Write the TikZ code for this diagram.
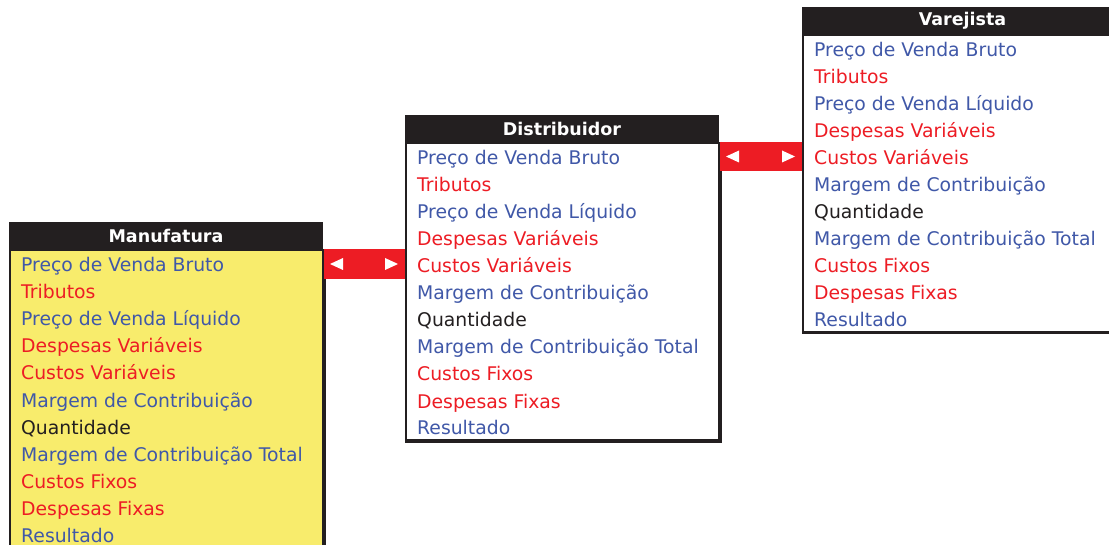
\documentclass[tikz,border=0pt]{standalone}
\usepackage{fontspec}
\setmainfont{DejaVu Sans}
\usetikzlibrary{calc}
\definecolor{hdr}{HTML}{231F20}
\definecolor{bl}{HTML}{4058A8}
\definecolor{rd}{HTML}{ED1C24}
\definecolor{ylw}{HTML}{F8EC6C}
\tikzset{
  hdrbox/.style={fill=hdr, draw=hdr, line width=1pt, minimum height=27pt, inner sep=0pt, text=white,
    font=\fontsize{17.5}{17.5}\selectfont\bfseries, anchor=north west},
  bodybox/.style={draw=hdr, line width=2pt, anchor=north west, inner sep=0pt, minimum height=297pt},
  rowtext/.style={anchor=west, font=\fontsize{18.8}{18.8}\selectfont, inner sep=0pt, text height=14pt, text depth=4pt},
  band/.style={fill=rd},
  tri/.style={fill=white}
}
\newcommand\drawtable[6]{%
  \node[bodybox, fill=#5, minimum width=#4pt] (#1body) at (#2,#3+27) {};
  \draw[hdr, line width=3pt] (#1body.north east) -- (#1body.south east) -- (#1body.south west);
  \node[hdrbox, minimum width=#4pt] (#1head) at (#2,#3) {#6};
  \foreach \t/\c [count=\i] in {Preço de Venda Bruto/bl, Tributos/rd, Preço de Venda Líquido/bl,
      Despesas Variáveis/rd, Custos Variáveis/rd, Margem de Contribuição/bl, Quantidade/hdr,
      Margem de Contribuição Total/bl, Custos Fixos/rd, Despesas Fixas/rd, Resultado/bl}
    \node[rowtext, text=\c] (#1row\i) at ($(#1body.north west)+(12,18+27*\i-27)$) {\t};
}
\begin{document}
\begin{tikzpicture}[x=1pt,y=-1pt]
\useasboundingbox (0,0) rectangle (1109,545);
\drawtable{m}{9}{222}{313}{ylw}{Manufatura}
\drawtable{d}{405}{115}{313}{white}{Distribuidor}
\drawtable{v}{802}{7}{320}{white}{Varejista}
% band Manufatura <-> Distribuidor
\fill[band] (mbody.north east) rectangle ($(dbody.north west |- mbody.north east)+(0,30)$);
\coordinate (b1l) at ($(mbody.north east)+(0,15)$);
\coordinate (b1r) at ($(dbody.north west |- mbody.north east)+(0,15)$);
\fill[tri] ($(b1l)+(6,0)$) -- ++(13,-6) -- ++(0,12) -- cycle;
\fill[tri] ($(b1r)+(-7,0)$) -- ++(-13,-6) -- ++(0,12) -- cycle;
% band Distribuidor <-> Varejista
\fill[band] (dbody.north east) rectangle ($(vbody.north west |- dbody.north east)+(0,29)$);
\coordinate (b2l) at ($(dbody.north east)+(0,14.5)$);
\coordinate (b2r) at ($(vbody.north west |- dbody.north east)+(0,14.5)$);
\fill[tri] ($(b2l)+(6,0)$) -- ++(13,-6) -- ++(0,12) -- cycle;
\fill[tri] ($(b2r)+(-7,0)$) -- ++(-13,-6) -- ++(0,12) -- cycle;
\end{tikzpicture}
\end{document}
